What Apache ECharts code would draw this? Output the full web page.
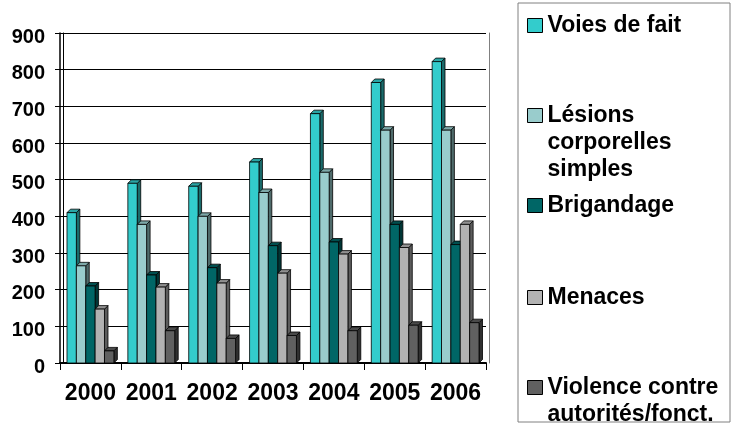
<!DOCTYPE html>
<html><head><meta charset="utf-8">
<script src="https://cdn.jsdelivr.net/npm/echarts@6/dist/echarts.min.js"></script>
<style>html,body{margin:0;padding:0;background:#fff}#c{width:731px;height:427px}</style>
</head><body><div id="c"></div>
<script>
const years = ['2000', '2001', '2002', '2003', '2004', '2005', '2006'];
const voiesDeFait = [410, 490, 482, 548, 680, 765, 822];
const lesionsCorporelles = [265, 378, 400, 465, 520, 635, 635];
const brigandage = [210, 240, 260, 320, 330, 378, 323];
const menaces = [147, 207, 218, 245, 297, 315, 378];
const violenceAutorites = [33, 88, 67, 75, 88, 103, 110];
const seriesNames = ['Voies de fait', 'Lésions\ncorporelles\nsimples', 'Brigandage', 'Menaces', 'Violence contre\nautorités/fonct.'];
const yMin = 0, yMax = 900, yStep = 100;

const allValues = [voiesDeFait, lesionsCorporelles, brigandage, menaces, violenceAutorites];
const palette = [
  { front: '#33CCCC', side: '#1A6B6B', top: '#2AA5A5' },
  { front: '#99CCCC', side: '#4F6B6B', top: '#7DA8A8' },
  { front: '#006666', side: '#003535', top: '#004F4F' },
  { front: '#B2B2B2', side: '#5C5C5C', top: '#909090' },
  { front: '#606060', side: '#303030', top: '#4A4A4A' }
];
const FONT = 'Liberation Sans';

function makeRender(idx) {
  return function (params, api) {
    const j = api.value(0), v = api.value(1);
    const p0 = api.coord([j, 0]);
    const p1 = api.coord([j, v]);
    const catW = api.size([1, 0])[0];
    const gw = catW * 0.77, w = gw / 5, d = 3.5;
    const x0 = p0[0] - gw / 2 + idx * w;
    const x1 = x0 + w, yb = p0[1], yt = p1[1];
    const c = palette[idx];
    const st = { stroke: '#000', lineWidth: 0.8 };
    return {
      type: 'group',
      children: [
        { type: 'polygon', shape: { points: [[x1, yt], [x1 + d, yt - d], [x1 + d, yb - d], [x1, yb]] }, style: Object.assign({ fill: c.side }, st) },
        { type: 'polygon', shape: { points: [[x0, yt], [x0 + d, yt - d], [x1 + d, yt - d], [x1, yt]] }, style: Object.assign({ fill: c.top }, st) },
        { type: 'rect', shape: { x: x0, y: yt, width: w, height: yb - yt }, style: Object.assign({ fill: c.front }, st) }
      ]
    };
  };
}

// Prepend blank lines so the icon lines up with the first line of multi-line names
function legendFormatter(name) {
  const n = name.split('\n').length;
  return '\n'.repeat(n - 1) + name;
}
const legendTops = [12, 48, 192, 284, 347];

const chart = echarts.init(document.getElementById('c'), null, { renderer: 'canvas' });
chart.setOption({
  animation: false,
  backgroundColor: '#fff',
  grid: { left: 60, right: 245, top: 33, bottom: 64, containLabel: false },
  xAxis: {
    type: 'category',
    data: years,
    axisLine: { show: true, lineStyle: { color: '#000', width: 2 } },
    axisTick: { show: true, length: 7, alignWithLabel: false, lineStyle: { color: '#000' } },
    axisLabel: { interval: 0, color: '#000', fontSize: 23, fontWeight: 'bold', fontFamily: FONT, margin: 19 },
    splitLine: { show: false }
  },
  yAxis: [
    {
      type: 'value', min: yMin, max: yMax, interval: yStep,
      axisLine: { show: true, lineStyle: { color: '#000', width: 1.5 } },
      axisTick: { show: true, length: 5, lineStyle: { color: '#000' } },
      axisLabel: {
        formatter: '{v|{value}}', margin: 15,
        rich: { v: { color: '#000', fontSize: 20, fontWeight: 'bold', fontFamily: FONT, padding: [8, 0, 0, 0] } }
      },
      splitLine: { show: true, lineStyle: { color: '#000', width: 1 } }
    },
    {
      type: 'value', min: yMin, max: yMax, interval: yStep, position: 'left', offset: -3,
      axisLine: { show: true, lineStyle: { color: '#000', width: 1 } },
      axisTick: { show: false }, axisLabel: { show: false }, splitLine: { show: false }
    },
    {
      type: 'value', min: yMin, max: yMax, interval: yStep, position: 'right', offset: 3,
      axisLine: { show: true, lineStyle: { color: '#808080', width: 1 } },
      axisTick: { show: false }, axisLabel: { show: false }, splitLine: { show: false }
    }
  ],
  legend: seriesNames.map((n, i) => ({
    data: [n],
    orient: 'vertical',
    left: 527,
    top: legendTops[i],
    padding: 0,
    itemWidth: 15,
    itemHeight: 14,
    icon: 'rect',
    selectedMode: false,
    formatter: legendFormatter,
    itemStyle: { borderColor: '#000', borderWidth: 1 },
    textStyle: { color: '#000', fontSize: 23, fontWeight: 'bold', fontFamily: FONT, lineHeight: 27 }
  })),
  graphic: [
    { type: 'rect', shape: { x: 518, y: 3, width: 212, height: 419 }, style: { fill: 'none', stroke: '#808080', lineWidth: 1 }, silent: true }
  ],
  series: allValues.map((arr, i) => ({
    type: 'custom',
    name: seriesNames[i],
    renderItem: makeRender(i),
    itemStyle: { color: palette[i].front },
    encode: { x: 0, y: 1 },
    data: arr.map((v, j) => [j, v])
  }))
});
</script></body></html>
